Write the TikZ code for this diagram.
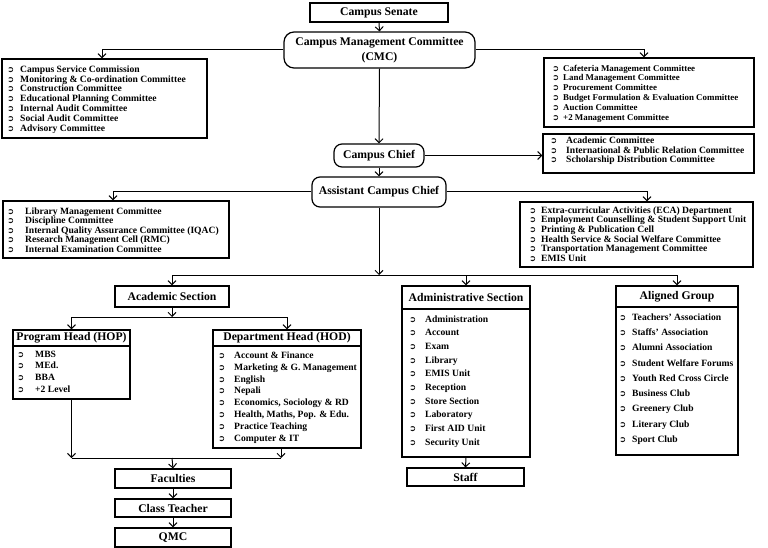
\documentclass[tikz,border=0pt]{standalone}
\usepackage{fontspec}
\setmainfont{Liberation Serif}
\newfontfamily\arrowfont{DejaVu Sans}
\usetikzlibrary{arrows.meta}

\newcommand{\bul}[1]{\makebox[#1pt][l]{\arrowfont\fontsize{8.5}{8.5}\selectfont ➲}}

\tikzset{
  hd/.style={draw, line width=1.2pt, inner sep=0pt, align=center, font=\fontsize{11.7}{15}\selectfont\bfseries},
  rhd/.style={hd, rounded corners=8pt},
  frame/.style={draw, line width=1.2pt, inner sep=0pt},
  items/.style={inner sep=0pt, anchor=west, align=left, font=\fontsize{9.6}{#1}\selectfont\bfseries},
  link/.style={line width=1pt},
  arr/.style={link, -{Straight Barb[length=4pt,width=8pt]}},
}

\begin{document}
\begin{tikzpicture}[x=1pt,y=-1pt]
\useasboundingbox (0,0) rectangle (768,548);

\draw (379,12.5) node[hd,minimum width=138pt,minimum height=19pt](senate) {Campus Senate};
\draw (379.5,50) node[rhd,rounded corners=10pt,minimum width=191pt,minimum height=36pt](cmc) {Campus Management Committee\\(CMC)};
\draw (379,155.5) node[rhd,minimum width=90pt,minimum height=23pt](chief) {Campus Chief};
\draw (379,192) node[rhd,minimum width=134pt,minimum height=30pt](acc) {Assistant Campus Chief};

\draw (104.5,98.5) node[frame,minimum width=205pt,minimum height=79pt](lcmc) {};
\draw (7,99.5) node[items=9.83](lcmcl) {\bul{13}Campus Service Commission\\\bul{13}Monitoring \& Co-ordination Committee\\\bul{13}Construction Committee\\\bul{13}Educational Planning Committee\\\bul{13}Internal Audit Committee\\\bul{13}Social Audit Committee\\\bul{13}Advisory Committee};

\draw (649,92.5) node[frame,minimum width=210pt,minimum height=69pt](rcmc) {};
\draw (552,93.5) node[items=9.8,font=\fontsize{8.9}{9.8}\selectfont\bfseries](rcmcl) {\bul{11}Cafeteria Management Committee\\\bul{11}Land Management Committee\\\bul{11}Procurement Committee\\\bul{11}Budget Formulation \& Evaluation Committee\\\bul{11}Auction Committee\\\bul{11}+2 Management Committee};

\draw (648.5,153.5) node[frame,minimum width=211pt,minimum height=39pt](rchief) {};
\draw (550,151) node[items=9.6](rchiefl) {\bul{16}Academic Committee\\\bul{16}International \& Public Relation Committee\\\bul{16}Scholarship Distribution Committee};

\draw (116,229.5) node[frame,minimum width=226pt,minimum height=57pt](lacc) {};
\draw (7,230) node[items=9.5](laccl) {\bul{18}Library Management Committee\\\bul{18}Discipline Committee\\\bul{18}Internal Quality Assurance Committee (IQAC)\\\bul{18}Research Management Cell (RMC)\\\bul{18}Internal Examination Committee};

\draw (636.5,234.5) node[frame,minimum width=233pt,minimum height=65pt](racc) {};
\draw (529,234) node[items=9.6](raccl) {\bul{12}Extra-curricular Activities (ECA) Department\\\bul{12}Employment Counselling \& Student Support Unit\\\bul{12}Printing \& Publication Cell\\\bul{12}Health Service \& Social Welfare Committee\\\bul{12}Transportation Management Committee\\\bul{12}EMIS Unit};

\draw (172,296.5) node[hd,minimum width=114pt,minimum height=21pt](acad) {Academic Section};

\draw (71.5,364.5) node[frame,minimum width=117pt,minimum height=69pt](hop) {};
\draw (hop.north) node[hd,anchor=north,minimum width=117pt,minimum height=16pt](hoph) {Program Head (HOP)};
\draw (17,371.5) node[items=11.7](hopl) {\bul{18}MBS\\\bul{18}MEd.\\\bul{18}BBA\\\bul{18}+2 Level};

\draw (287,389) node[frame,minimum width=148pt,minimum height=118pt](hod) {};
\draw (hod.north) node[hd,anchor=north,minimum width=148pt,minimum height=16pt](hodh) {Department Head (HOD)};
\draw (218,397.5) node[items=11.86](hodl) {\bul{16}Account \& Finance\\\bul{16}Marketing \& G. Management\\\bul{16}English\\\bul{16}Nepali\\\bul{16}Economics, Sociology \& RD\\\bul{16}Health, Maths, Pop. \& Edu.\\\bul{16}Practice Teaching\\\bul{16}Computer \& IT};

\draw (466,371.5) node[frame,minimum width=128pt,minimum height=171pt](adm) {};
\draw (adm.north) node[hd,anchor=north,minimum width=128pt,minimum height=23pt](admh) {Administrative Section};
\draw (409,381.5) node[items=13.67](adml) {\bul{16}Administration\\\bul{16}Account\\\bul{16}Exam\\\bul{16}Library\\\bul{16}EMIS Unit\\\bul{16}Reception\\\bul{16}Store Section\\\bul{16}Laboratory\\\bul{16}First AID Unit\\\bul{16}Security Unit};

\draw (677,370.5) node[frame,minimum width=122pt,minimum height=169pt](alg) {};
\draw (alg.north) node[hd,anchor=north,minimum width=122pt,minimum height=21pt](algh) {Aligned Group};
\draw (619,379) node[items=15.25](algl) {\bul{13}Teachers’ Association\\\bul{13}Staffs’ Association\\\bul{13}Alumni Association\\\bul{13}Student Welfare Forums\\\bul{13}Youth Red Cross Circle\\\bul{13}Business Club\\\bul{13}Greenery Club\\\bul{13}Literary Club\\\bul{13}Sport Club};

\draw (465.5,477) node[hd,minimum width=117pt,minimum height=18pt](staff) {Staff};
\draw (173,478.5) node[hd,minimum width=116pt,minimum height=19pt](fac) {Faculties};
\draw (173,508) node[hd,minimum width=116pt,minimum height=18pt](ct) {Class Teacher};
\draw (173,537.5) node[hd,minimum width=116pt,minimum height=19pt](qmc) {QMC};

\draw[arr] (senate.south) -- (cmc.north);
\draw[arr] (cmc.west) -| ([xshift=-2.5pt]lcmc.north);
\draw[arr] (cmc.east) -| ([xshift=-5pt]rcmc.north);
\draw[arr] (cmc.south) -- (chief.north);
\draw[arr] (chief.east) -- (chief.east -| rchief.west);
\draw[arr] (chief.south) -- (acc.north);
\draw[arr] (acc.west) -| ([xshift=-3pt]lacc.north);
\draw[arr] (acc.east) -| ([xshift=10.5pt]racc.north);

\coordinate (bus) at (379,275);
\draw[arr] (acc.south) -- (bus);
\draw[link] (bus -| acad.north) -- (bus -| alg.north);
\draw[arr] (bus -| acad.north) -- (acad.north);
\draw[arr] (bus -| admh.north) -- (admh.north);
\draw[arr] (bus -| algh.north) -- (algh.north);

\coordinate (acbus) at (172,317);
\draw[arr] (acad.south) -- (acbus);
\draw[link] (acbus -| hop.north) -- (acbus -| hod.north);
\draw[arr] (acbus -| hoph.north) -- (hoph.north);
\draw[arr] (acbus -| hodh.north) -- (hodh.north);

\coordinate (fbus) at (172,458);
\coordinate (hodout) at ([xshift=-6pt]hod.south);
\draw[arr] (hop.south) -- (hop.south |- fbus);
\draw[arr] (hodout) -- (hodout |- fbus);
\draw[link] (hop.south |- fbus) -- (hodout |- fbus);
\draw[arr] (fbus) -- (fac.north);
\draw[arr] (fac.south) -- (ct.north);
\draw[arr] (ct.south) -- (qmc.north);
\draw[arr] (adm.south) -- (staff.north);
\end{tikzpicture}
\end{document}
